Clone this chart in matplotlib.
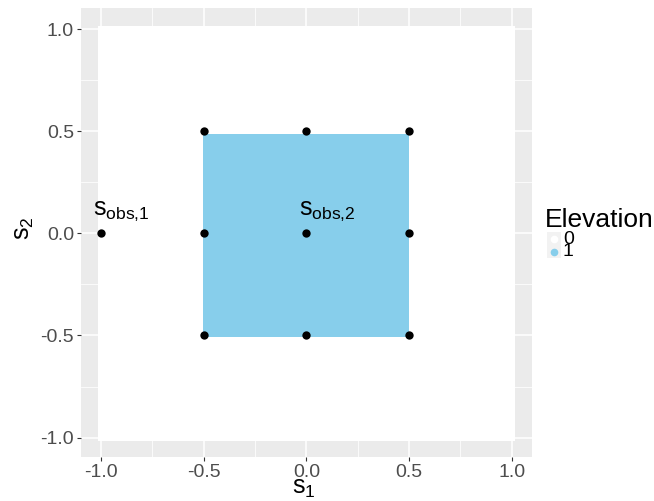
import matplotlib
matplotlib.use("Agg")
import matplotlib.pyplot as plt
from matplotlib.patches import Rectangle
from matplotlib.lines import Line2D
import numpy as np

plt.rcParams["font.family"] = ["Liberation Sans", "DejaVu Sans"]
plt.rcParams["mathtext.fontset"] = "custom"
plt.rcParams["mathtext.rm"] = "Liberation Sans"
plt.rcParams["mathtext.it"] = "Liberation Sans"
plt.rcParams["mathtext.bf"] = "Liberation Sans:bold"
plt.rcParams["mathtext.sf"] = "Liberation Sans"

# Elevation raster: cell edges along s1 and s2 and the 0/1 value of each cell
s1_edges = [-1.015, -0.505, 0.5, 1.015]
s2_edges = [-1.015, -0.51, 0.485, 1.015]
elevation = np.array([[0, 0, 0],
                      [0, 1, 0],
                      [0, 0, 0]])
elev_levels = ["0", "1"]
elev_colors = ["#FFFFFF", "#87CEEB"]

# Observation / grid points
pts_s1 = [-1.0, -0.5, 0.0, 0.5, -0.5, 0.0, 0.5, -0.5, 0.0, 0.5]
pts_s2 = [0.0, 0.5, 0.5, 0.5, 0.0, 0.0, 0.0, -0.5, -0.5, -0.5]

# Labels for the two observation sites
lab_s1 = [-0.9, 0.1]
lab_s2 = [0.11, 0.11]
lab_txt = [r"$\mathregular{s_{obs{,}1}}$", r"$\mathregular{s_{obs{,}2}}$"]

ticks = [-1.0, -0.5, 0.0, 0.5, 1.0]
tick_labels = ["-1.0", "-0.5", "0.0", "0.5", "1.0"]
minor_ticks = [-0.75, -0.25, 0.25, 0.75]

W, H = 654, 501
fig = plt.figure(figsize=(W / 100, H / 100), dpi=100)
ax = fig.add_axes([81 / W, (H - 457) / H, (532 - 81) / W, (457 - 8) / H])
ax.set_facecolor("#EBEBEB")
for sp in ax.spines.values():
    sp.set_visible(False)

ax.set_xlim(-1.098, 1.099)
ax.set_ylim(-1.095, 1.103)

# grid
for t in ticks:
    ax.axvline(t, color="white", lw=1.1, zorder=0.5)
    ax.axhline(t, color="white", lw=1.1, zorder=0.5)
for t in minor_ticks:
    ax.axvline(t, color="white", lw=0.55, zorder=0.5)
    ax.axhline(t, color="white", lw=0.55, zorder=0.5)

cmap = matplotlib.colors.ListedColormap(elev_colors)
ax.pcolormesh(s1_edges, s2_edges, elevation, cmap=cmap, vmin=0, vmax=1,
              shading="flat", zorder=1, edgecolors="none")

ax.scatter(pts_s1, pts_s2, s=36, color="black", zorder=3, linewidths=0)

for x, y, t in zip(lab_s1, lab_s2, lab_txt):
    ax.text(x, y, t, ha="center", va="center", fontsize=18, color="black", zorder=4)

ax.set_xticks(ticks)
ax.set_xticklabels(tick_labels)
ax.set_yticks(ticks)
ax.set_yticklabels(tick_labels)
ax.tick_params(axis="both", which="major", length=3, width=0.8, color="#333333",
               labelsize=14, labelcolor="#4D4D4D", pad=2)


def fx(px):
    return px / W


def fy(py):
    return 1 - py / H


# axis titles
fig.text(fx(304), fy(494), r"$\mathregular{s_1}$", fontsize=18, ha="center",
         va="baseline", color="black")
fig.text(fx(23.5), fy(228), r"$\mathregular{s_2}$", fontsize=18, ha="center",
         va="center", rotation=90, color="black")

# legend
fig.text(fx(545), fy(227), "Elevation", fontsize=19, ha="left", va="baseline", color="black")
key_w, key_h = 14, 13
for i, (lev, col) in enumerate(zip(elev_levels, elev_colors)):
    top = 232 + i * key_h
    fig.add_artist(Rectangle((fx(547), fy(top + key_h)), key_w / W, key_h / H,
                             transform=fig.transFigure, facecolor="#F2F2F2",
                             edgecolor="none"))
    fig.add_artist(Line2D([fx(547 + key_w / 2)], [fy(top + key_h / 2)],
                          marker="o", markersize=5.5, color=col,
                          markeredgewidth=0, linestyle="none",
                          transform=fig.transFigure))
    fig.text(fx(563), fy(top + key_h / 2 + 0.5), lev, fontsize=14, ha="left",
             va="center", color="black")

fig.savefig("out.png", dpi=100)
